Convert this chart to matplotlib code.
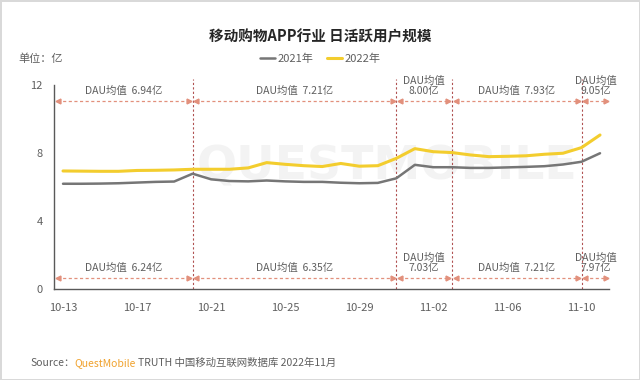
import numpy as np
import matplotlib
matplotlib.use('Agg')
import matplotlib.pyplot as plt

plt.rcParams['font.family'] = ['Noto Sans CJK SC', 'DejaVu Sans']

# daily dates, 10-13 .. 11-11
dates = ['10-13', '10-14', '10-15', '10-16', '10-17', '10-18', '10-19', '10-20',
         '10-21', '10-22', '10-23', '10-24', '10-25', '10-26', '10-27', '10-28',
         '10-29', '10-30', '10-31', '11-01', '11-02', '11-03', '11-04', '11-05',
         '11-06', '11-07', '11-08', '11-09', '11-10', '11-11']

# DAU (亿)
dau_2021 = [6.19, 6.19, 6.20, 6.22, 6.26, 6.30, 6.32, 6.78, 6.45, 6.35,
            6.33, 6.38, 6.33, 6.30, 6.30, 6.25, 6.22, 6.24, 6.51, 7.30,
            7.16, 7.16, 7.12, 7.12, 7.15, 7.18, 7.22, 7.32, 7.48, 7.98]
dau_2022 = [6.94, 6.93, 6.92, 6.92, 6.97, 6.98, 7.00, 7.04, 7.04, 7.04,
            7.12, 7.43, 7.33, 7.25, 7.20, 7.38, 7.22, 7.25, 7.68, 8.25,
            8.07, 8.02, 7.88, 7.78, 7.80, 7.83, 7.92, 7.98, 8.31, 9.05]

# period boundaries (start dates) and period averages
period_starts = ['10-20', '10-31', '11-03', '11-10']
avg_2022 = ['6.94', '7.21', '8.00', '7.93', '9.05']
avg_2021 = ['6.24', '6.35', '7.03', '7.21', '7.97']

tick_dates = dates[::4]

c21 = '#767676'
c22 = '#f3cd2e'
c_arrow = '#e2907c'
c_vline = '#b05050'
c_text = '#5f5f5f'

fig = plt.figure(figsize=(6.4, 3.8), dpi=100)
fig.patch.set_facecolor('white')
fig.patch.set_edgecolor('#d9d9d9')
fig.patch.set_linewidth(2)

ax = fig.add_axes([0.084, 0.2387, 0.868, 0.5384])
x = np.arange(len(dates))

# faint watermark
ax.text(0.6, 0.6, 'QUESTMOBILE', transform=ax.transAxes, ha='center', va='center',
        fontsize=34, fontweight='bold', color='#f3f3f3', zorder=0, family='DejaVu Sans')

ax.plot(x, dau_2021, color=c21, lw=1.8, solid_capstyle='round', zorder=3, label='2021年')
ax.plot(x, dau_2022, color=c22, lw=2.2, solid_capstyle='round', zorder=3, label='2022年')

ax.set_xlim(-0.5, len(dates) - 0.5)
ax.set_ylim(0, 12)

bounds = [dates.index(d) for d in period_starts]
edges = [-0.45] + bounds + [len(dates) - 0.5]

for b in bounds:
    ax.plot([b, b], [0, 12.35], color=c_vline, lw=0.8, ls=(0, (2, 2)),
            clip_on=False, zorder=2)

for i in range(len(edges) - 1):
    x0, x1 = edges[i], edges[i + 1]
    xm = (x0 + x1) / 2
    narrow = (x1 - x0) < 4
    for yy, val in [(11.06, avg_2022[i]), (0.68, avg_2021[i])]:
        ax.plot([x0 + 0.15, x1 - 0.15], [yy, yy], color=c_arrow, lw=0.9,
                ls=(0, (2.5, 2)), clip_on=False, zorder=2)
        ax.plot([x0 + 0.2], [yy], marker='<', color=c_arrow, ms=3.5, clip_on=False, zorder=2)
        ax.plot([x1 - 0.2], [yy], marker='>', color=c_arrow, ms=3.5, clip_on=False, zorder=2)
        if narrow:
            ax.text(xm, yy + 0.25, 'DAU均值\n' + val + '亿', ha='center', va='bottom',
                    fontsize=7.5, color=c_text, linespacing=1.1, clip_on=False)
        else:
            ax.text(xm, yy + 0.25, 'DAU均值  ' + val + '亿', ha='center', va='bottom',
                    fontsize=7.5, color=c_text, clip_on=False)

ax.set_xticks(x[::4])
ax.set_xticklabels(tick_dates)
ax.set_yticks([0, 4, 8, 12])
ax.tick_params(axis='both', length=0, labelsize=8, colors=c_text)
ax.tick_params(axis='x', pad=10)
ax.tick_params(axis='y', pad=8)
for s in ['top', 'right']:
    ax.spines[s].set_visible(False)
for s in ['left', 'bottom']:
    ax.spines[s].set_color('#595959')
    ax.spines[s].set_linewidth(1)

fig.text(0.5, 0.905, '移动购物APP行业 日活跃用户规模', ha='center', va='center',
         fontsize=10.5, fontweight='bold', color='#262626')
fig.text(0.028, 0.845, '单位：亿', ha='left', va='center', fontsize=8, color=c_text)

leg = fig.legend(loc='center', bbox_to_anchor=(0.5, 0.845), ncol=2, frameon=False,
                 fontsize=8, handlelength=1.4, handletextpad=0.2, columnspacing=1.2,
                 labelcolor=c_text)

# source line
t1 = fig.text(0.047, 0.045, 'Source：', ha='left', va='center', fontsize=7.5, color=c_text)
fig.canvas.draw()
r = fig.canvas.get_renderer()
bb = t1.get_window_extent(r)
t2 = fig.text(bb.x1 / 640, 0.045, 'QuestMobile', ha='left', va='center', fontsize=7.5,
              color='#f0a22e')
bb2 = t2.get_window_extent(r)
fig.text(bb2.x1 / 640 + 0.003, 0.045, 'TRUTH 中国移动互联网数据库 2022年11月', ha='left',
         va='center', fontsize=7.5, color=c_text)

fig.savefig('out.png', dpi=100, facecolor=fig.get_facecolor(), edgecolor=fig.get_edgecolor())
